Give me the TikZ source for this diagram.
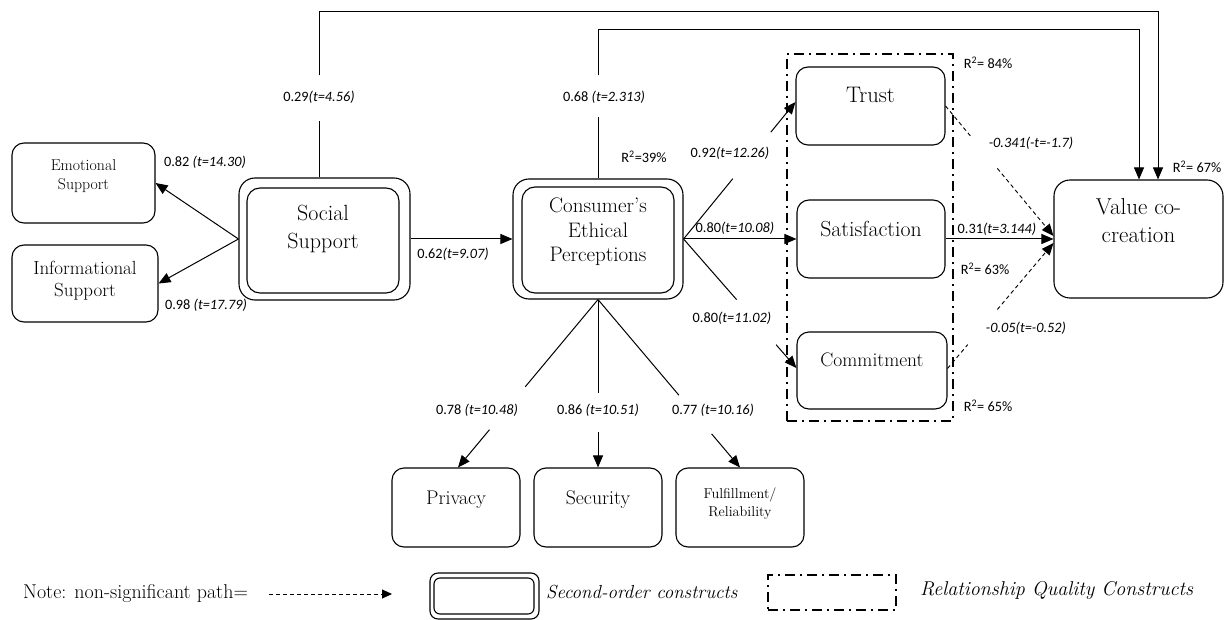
\documentclass[tikz,border=0pt]{standalone}
\usepackage{fontspec}
\newfontfamily\lblfont{Carlito}
\usetikzlibrary{arrows.meta,calc}
\newcommand{\fsz}[2]{\fontsize{#1}{#2}\selectfont}
\begin{document}
\begin{tikzpicture}[x=1pt,y=-1pt,
  box/.style={draw, rounded corners=12pt, line width=1.1pt, inner sep=0pt},
  txt/.style={align=center, inner sep=0pt},
  lbl/.style={font=\lblfont\fsz{14.3}{16}, inner sep=1pt},
  conn/.style={line width=1pt},
  arr/.style={line width=1pt, -{Triangle[length=12pt,width=10pt]}},
  nsig/.style={line width=0.9pt, dash pattern=on 4pt off 3pt},
  rq/.style={line width=2.4pt, dash pattern=on 10pt off 5pt on 2pt off 5pt},
]
\fill[white] (0,0) rectangle (1225,620);
\useasboundingbox (0,0) rectangle (1225,620);

% ---------- boxes ----------
\node[box, minimum width=143pt, minimum height=80pt] (emo) at (83.5,183) {};
\node[txt, font=\fsz{15.8}{19}] (emo-t) at (83.5,176) {Emotional\\Support};
\node[box, minimum width=146pt, minimum height=77pt] (info) at (85,283.5) {};
\node[txt, font=\fsz{19}{22}] (info-t) at (85,281) {Informational\\Support};

\node[box, rounded corners=16pt, minimum width=171pt, minimum height=122pt] (ss) at (324.5,239) {};
\node[box, rounded corners=13pt, minimum width=152pt, minimum height=105pt] (ss-in) at (323,240.5) {};
\node[txt, font=\fsz{22}{28}] (ss-t) at (323,229) {Social\\Support};

\node[box, rounded corners=16pt, minimum width=170pt, minimum height=120pt] (cep) at (598,239) {};
\node[box, rounded corners=13pt, minimum width=152pt, minimum height=106pt] (cep-in) at (598,240) {};
\node[txt, font=\fsz{21}{24.5}] (cep-t) at (598,232) {Consumer’s\\Ethical\\Perceptions};

\node[rq, draw, inner sep=0pt, minimum width=166pt, minimum height=367pt] (rqbox) at (870,237.5) {};
\node[box, minimum width=149pt, minimum height=78pt] (trust) at (870.5,106) {};
\node[txt, font=\fsz{22.5}{26}] (trust-t) at (870.5,95) {Trust};
\node[box, minimum width=148pt, minimum height=78pt] (sat) at (871,239) {};
\node[txt, font=\fsz{21.8}{26}] (sat-t) at (871,229) {Satisfaction};
\node[box, minimum width=150pt, minimum height=77pt] (com) at (872,370.5) {};
\node[txt, font=\fsz{19.5}{22}] (com-t) at (872,360) {Commitment};

\node[box, rounded corners=16pt, minimum width=169pt, minimum height=118pt] (vc) at (1138.5,239) {};
\node[txt, font=\fsz{23}{28}] (vc-t) at (1138.5,221) {Value co-\\creation};

\node[box, minimum width=128pt, minimum height=79pt] (priv) at (456,507.5) {};
\node[txt, font=\fsz{19.8}{22}] (priv-t) at (456,500) {Privacy};
\node[box, minimum width=128pt, minimum height=79pt] (sec) at (598,507.5) {};
\node[txt, font=\fsz{19.8}{22}] (sec-t) at (598,500) {Security};
\node[box, minimum width=128pt, minimum height=79pt] (fulf) at (740,507.5) {};
\node[txt, font=\fsz{14.3}{18}] (fulf-t) at (740,504) {Fulfillment/\\Reliability};

% ---------- long paths to value co-creation ----------
\coordinate (ssTop) at ([xshift=-5.5pt]ss.north);
\coordinate (vcA) at ([xshift=19.5pt]vc.north);
\coordinate (vcB) at ([xshift=0.5pt]vc.north);
\draw[conn] (ssTop) -- ++(0,-56);
\draw[arr] ($(ssTop)+(0,-102)$) -- ++(0,-64) -| (vcA);
\node[lbl] (l029) at (319,97) {0.29\itshape(t=4.56)};

\draw[conn] (cep.north) -- ++(0,-61);
\draw[arr] ($(cep.north)+(0,-103)$) -- ++(0,-46) -| (vcB);
\node[lbl] (l068) at (604,97) {0.68 \itshape(t=2.313)};

% ---------- social support ----------
\draw[arr] (ss.west) -- (emo.east);
\draw[arr] (ss.west) -- (info.east);
\node[lbl] (l082) at (205,162) {0.82 \itshape(t=14.30)};
\node[lbl] (l098) at (206,305) {0.98 \itshape(t=17.79)};
\draw[arr] (ss.east) -- (cep.west);
\node[lbl] (l062) at (453,254) {0.62\itshape(t=9.07)};

% ---------- CEP to relationship quality ----------
\coordinate (tT) at ([yshift=4pt]trust.west);
\draw[conn] (cep.east) -- ($(cep.east)!0.44!(tT)$);
\draw[arr] ($(cep.east)!0.78!(tT)$) -- (tT);
\node[lbl] (l092) at (730,153) {0.92\itshape(t=12.26)};
\draw[arr] (cep.east) -- (sat.west);
\node[lbl] (l080a) at (735,228) {0.80\itshape(t=10.08)};
\coordinate (tC) at ([yshift=2.5pt]com.west);
\draw[conn] (cep.east) -- ($(cep.east)!0.47!(tC)$);
\draw[arr] ($(cep.east)!0.82!(tC)$) -- (tC);
\node[lbl] (l080b) at (732,318) {0.80\itshape(t=11.02)};
\node[lbl] (r39) at (644,157) {R\textsuperscript{2}=39\%};

% ---------- CEP dimensions ----------
\coordinate (tP) at ([xshift=2pt]priv.north);
\draw[conn] (cep.south) -- ($(cep.south)!0.52!(tP)$);
\draw[arr] ($(cep.south)!0.775!(tP)$) -- (tP);
\draw[conn] (cep.south) -- ($(cep.south)!0.556!(sec.north)$);
\draw[arr] ($(cep.south)!0.79!(sec.north)$) -- (sec.north);
\draw[conn] (cep.south) -- ($(cep.south)!0.57!(fulf.north)$);
\draw[arr] ($(cep.south)!0.80!(fulf.north)$) -- (fulf.north);
\node[lbl] (l078) at (477,410) {0.78 \itshape(t=10.48)};
\node[lbl] (l086) at (598,410) {0.86 \itshape(t=10.51)};
\node[lbl] (l077) at (713,410) {0.77 \itshape(t=10.16)};

% ---------- relationship quality to value co-creation ----------
\coordinate (tTV) at ([yshift=3pt]vc.west);
\draw[nsig] (trust.east) -- ($(trust.east)!0.23!(tTV)$);
\draw[nsig, -{Triangle[length=12pt,width=10pt]}] ($(trust.east)!0.48!(tTV)$) -- (tTV);
\node[lbl] (l0341) at (1031,143) {\itshape -0.341(-t=-1.7)};
\draw[arr] (sat.east) -- (vc.west);
\node[lbl] (l031) at (997,229) {0.31\itshape(t=3.144)};
\coordinate (cS) at ([yshift=2pt]com.east);
\coordinate (tCV) at ([yshift=-4pt]vc.west);
\draw[nsig] (cS) -- ($(cS)!0.19!(tCV)$);
\draw[nsig, -{Triangle[length=12pt,width=10pt]}] ($(cS)!0.47!(tCV)$) -- (tCV);
\node[lbl] (l005) at (1026,328) {\itshape -0.05(t=-0.52)};

\node[lbl] (r84) at (988,63) {R\textsuperscript{2}= 84\%};
\node[lbl] (r63) at (985,269) {R\textsuperscript{2}= 63\%};
\node[lbl] (r65) at (988,406) {R\textsuperscript{2}= 65\%};
\node[lbl] (r67) at (1197,167) {R\textsuperscript{2}= 67\%};

% ---------- legend ----------
\node[txt, font=\fsz{20}{22}, anchor=west] (note) at (23,594) {Note: non-significant path=};
\coordinate (nsA) at (269,594);
\coordinate (nsB) at (392,594);
\draw[nsig, -{Triangle[length=10pt,width=9pt]}] (nsA) -- (nsB);
\node[box, rounded corners=8pt, minimum width=109pt, minimum height=46pt] (lg2) at (484.5,596) {};
\node[box, rounded corners=6pt, minimum width=100pt, minimum height=36pt] (lg2-in) at (484,596) {};
\node[txt, font=\itshape\fsz{18.9}{22}, anchor=west] (lg2-t) at (546,592) {Second-order constructs};
\node[rq, draw, line width=2pt, inner sep=0pt, minimum width=128pt, minimum height=35pt] (lgrq) at (832,592.5) {};
\node[txt, font=\itshape\fsz{20}{22}, anchor=west] (lgrq-t) at (920,590) {Relationship Quality Constructs};
\end{tikzpicture}
\end{document}
